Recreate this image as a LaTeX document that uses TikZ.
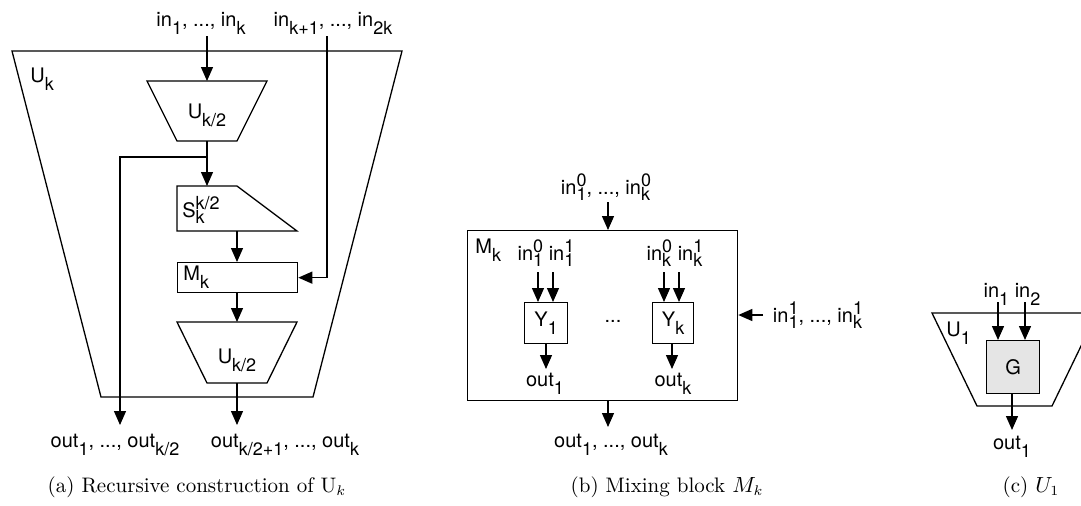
\documentclass[tikz,border=0pt]{standalone}
\usepackage{fontspec}
\setsansfont{TeX Gyre Heros}
\usetikzlibrary{arrows.meta}
\newcommand\lblfont{\sffamily\fontsize{10}{11}\selectfont}
\newcommand\sub[1]{\raisebox{-4pt}{\fontsize{9}{9}\selectfont #1}}
\newcommand\subsup[2]{{\fontsize{9}{9}\selectfont\setbox0\hbox{\raisebox{-3pt}{#1}}\setbox2\hbox{\raisebox{3.8pt}{#2}}\ifdim\wd0>\wd2 \rlap{\box2}\box0 \else\rlap{\box0}\box2 \fi}}
\tikzset{
  ln/.style={line width=0.65pt},
  arr/.style={line width=0.65pt,-{Triangle[length=7pt,width=6pt]}},
  box/.style={draw,line width=0.65pt,inner sep=0pt,anchor=north west,font=\lblfont},
  lbl/.style={font=\lblfont,inner sep=0pt,anchor=base},
  lblw/.style={font=\lblfont,inner sep=0pt,anchor=base west},
  capt/.style={font=\fontsize{10.5}{12}\selectfont,inner sep=0pt,anchor=base}
}
\begin{document}
\begin{tikzpicture}[x=0.5pt,y=-0.5pt]
\clip (0,0) rectangle (1081,505);
% ---------------- panel (a)
\draw[ln] (12,51) -- (402,51) -- (313,397) -- (101,397) -- cycle;
\node[lblw] (ukl) at (30,82) {U\sub{k}};
\node[lbl] (inlo) at (201,26) {in\sub{1}, ..., in\sub{k}};
\node[lbl] (inhi) at (333,26) {in\sub{k+1}, ..., in\sub{2k}};
\coordinate (inA) at (207,36);
\coordinate (inB) at (327,36);
% upper U_{k/2}
\draw[ln] (147,81) -- (267,81) -- (237,141) -- (177,141) -- cycle;
\coordinate (uAtop) at (207,81);
\coordinate (uAbot) at (207,141);
\node[lbl] (uAl) at (207,118) {U\sub{k/2}};
% S block
\draw[ln] (177,186) -- (237,186) -- (297,231) -- (177,231) -- cycle;
\coordinate (Stop) at (207,186);
\coordinate (Sbot) at (237,231);
\node[lblw] (Sl) at (182,217) {S\subsup{k}{k/2}};
% M_k
\node[box,minimum width=60pt,minimum height=15pt] (mk) at (177,262) {};
\node[lblw] (mkl) at (183,280) {M\sub{k}};
% lower U_{k/2}
\draw[ln] (177,322) -- (297,322) -- (267,383) -- (207,383) -- cycle;
\coordinate (uBtop) at (237,322);
\coordinate (uBbot) at (237,383);
\node[lbl] (uBl) at (237,363) {U\sub{k/2}};
% connectors
\coordinate (br) at (207,157);
\coordinate (oA) at (120,425);
\coordinate (oB) at (237,425);
\draw[arr] (inA) -- (uAtop);
\draw[arr] (uAbot) -- (Stop);
\draw[arr] (br) -| (oA);
\draw[arr] (Sbot) -- (mk.north -| Sbot);
\draw[arr] (inB) |- (mk.east);
\draw[arr] (mk.south -| uBtop) -- (uBtop);
\draw[arr] (uBbot) -- (oB);
\node[lbl] (outA) at (115,447) {out\sub{1}, ..., out\sub{k/2}};
\node[lbl] (outB) at (285,447) {out\sub{k/2+1}, ..., out\sub{k}};
\node[capt] (capa) at (197,492) {(a) Recursive construction of U$_k$};
% ---------------- panel (b)
\node[lbl] (inb0) at (606,194) {in\subsup{1}{0}, ..., in\subsup{k}{0}};
\coordinate (inb0a) at (608,202);
\node[box,minimum width=135pt,minimum height=85pt] (mbox) at (467,230) {};
\node[lblw] (mbl) at (475,253) {M\sub{k}};
\draw[arr] (inb0a) -- (mbox.north -| inb0a);
\node[lbl] (in11) at (546,260) {in\subsup{1}{0} in\subsup{1}{1}};
\node[lbl] (inkk) at (675,260) {in\subsup{k}{0} in\subsup{k}{1}};
\node[box,minimum width=21.5pt,minimum height=20.5pt] (y1) at (524,302) {Y\sub{1}};
\node[box,minimum width=20.5pt,minimum height=20.5pt] (yk) at (652,302) {Y\sub{k}};
\node[lbl] (dots) at (613,322) {...};
\coordinate (a1) at (538,272);
\coordinate (a2) at (553,272);
\coordinate (a3) at (664,272);
\coordinate (a4) at (679,272);
\draw[arr] (a1) -- (y1.north -| a1);
\draw[arr] (a2) -- (y1.north -| a2);
\draw[arr] (a3) -- (yk.north -| a3);
\draw[arr] (a4) -- (yk.north -| a4);
\coordinate (o1) at (546,369);
\coordinate (ok) at (672,369);
\draw[arr] (y1.south -| o1) -- (o1);
\draw[arr] (yk.south -| ok) -- (ok);
\node[lbl] (out1) at (545,386) {out\sub{1}};
\node[lbl] (outk) at (673,386) {out\sub{k}};
\coordinate (inb1a) at (763,315);
\draw[arr] (inb1a) -- (mbox.east |- inb1a);
\node[lbl] (inb1) at (818,322) {in\subsup{1}{1}, ..., in\subsup{k}{1}};
\coordinate (ob) at (608,427);
\draw[arr] (mbox.south -| ob) -- (ob);
\node[lbl] (outb) at (611,447) {out\sub{1}, ..., out\sub{k}};
\node[capt] (capb) at (667,492) {(b) Mixing block $M_k$};
% ---------------- panel (c)
\draw[ln] (932,313) -- (1097,313) -- (1052,406) -- (977,406) -- cycle;
\node[lblw] (u1l) at (946,336) {U\sub{1}};
\node[lbl] (inc) at (1012,297) {in\sub{1} in\sub{2}};
\node[box,fill=black!10,minimum width=26.5pt,minimum height=26.5pt] (g) at (986,340) {G};
\coordinate (c1) at (998,302);
\coordinate (c2) at (1025,302);
\draw[arr] (c1) -- (g.north -| c1);
\draw[arr] (c2) -- (g.north -| c2);
\coordinate (oc) at (1012,430);
\draw[arr] (g.south -| oc) -- (oc);
\node[lbl] (outc) at (1012,449) {out\sub{1}};
\node[capt] (capc) at (1031,492) {(c) $U_1$};
\end{tikzpicture}
\end{document}
